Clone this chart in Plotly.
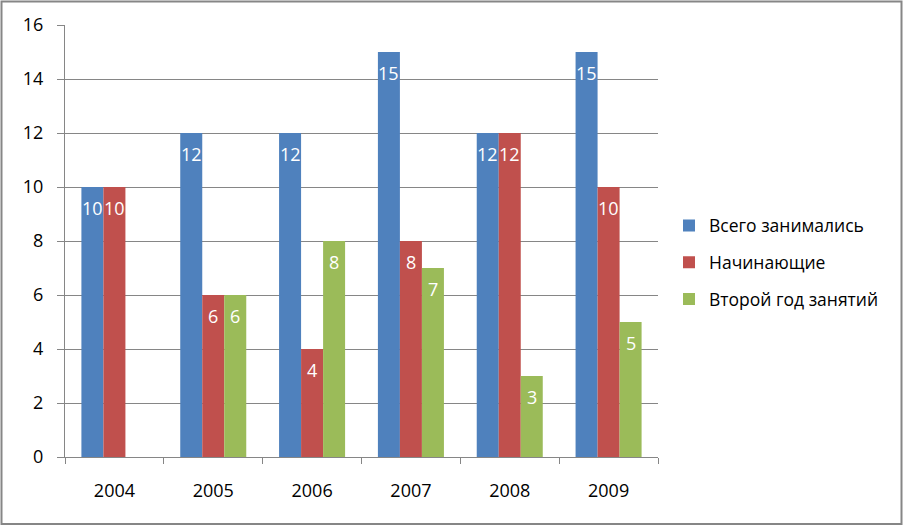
import plotly.graph_objects as go

years = ["2004", "2005", "2006", "2007", "2008", "2009"]
total = [10, 12, 12, 15, 12, 15]
beginners = [10, 6, 4, 8, 12, 10]
second_year = [None, 6, 8, 7, 3, 5]
names = ["Всего занимались", "Начинающие", "Второй год занятий"]
colors = ["#4F81BD", "#C0504D", "#9BBB59"]
series = [total, beginners, second_year]

W, H = 903, 526
L, R, T, B = 65, 245, 25, 68.5
BARGAP = 0.332
FONT = "Open Sans"
GRID = "#868686"

fig = go.Figure()
for k, (nm, col, vals) in enumerate(zip(names, colors, series)):
    fig.add_trace(go.Bar(x=years, y=vals, name=nm, marker=dict(color=col, line=dict(width=0)),
                         legendgroup=nm))

bw = (1 - BARGAP) / 3
annotations = []
for k, vals in enumerate(series):
    for i, v in enumerate(vals):
        if v is None:
            continue
        annotations.append(dict(x=i + (k - 1) * bw, y=v, xref="x", yref="y", text=str(v),
                                showarrow=False, yshift=-21, yanchor="middle",
                                font=dict(family=FONT, size=18, color="white")))

pw = W - L - R
ph = H - T - B
shapes = [dict(type="rect", xref="paper", yref="paper",
               x0=(1.5 - L) / pw, x1=(W - 1.5 - L) / pw,
               y0=-(H - 1.5 - T - ph) / ph, y1=1 + (T - 1.5) / ph,
               line=dict(color=GRID, width=2), fillcolor="rgba(0,0,0,0)", layer="below")]

fig.update_layout(
    width=W, height=H,
    margin=dict(l=L, r=R, t=T, b=B),
    paper_bgcolor="white", plot_bgcolor="white",
    barmode="group", bargap=BARGAP, bargroupgap=0,
    font=dict(family=FONT, size=17, color="black"),
    showlegend=True,
    legend=dict(x=(669 - L) / pw, xanchor="left", y=(H - 263 - B) / ph, yanchor="middle",
                font=dict(family=FONT, size=17.5), tracegroupgap=11, traceorder="grouped",
                bgcolor="rgba(0,0,0,0)"),
    annotations=annotations,
    shapes=shapes,
    xaxis=dict(type="category", showline=True, linecolor=GRID, linewidth=1,
               ticks="outside", tickson="boundaries", ticklen=6, tickcolor=GRID,
               showgrid=False, ticklabelstandoff=17, tickfont=dict(size=18)),
    yaxis=dict(range=[0, 16], dtick=2, showline=True, linecolor=GRID, linewidth=1,
               ticks="outside", ticklen=7, tickcolor=GRID, showgrid=True, gridcolor=GRID,
               gridwidth=1, zeroline=False, ticklabelstandoff=10, tickfont=dict(size=18)),
)

fig.write_html("out.html")
